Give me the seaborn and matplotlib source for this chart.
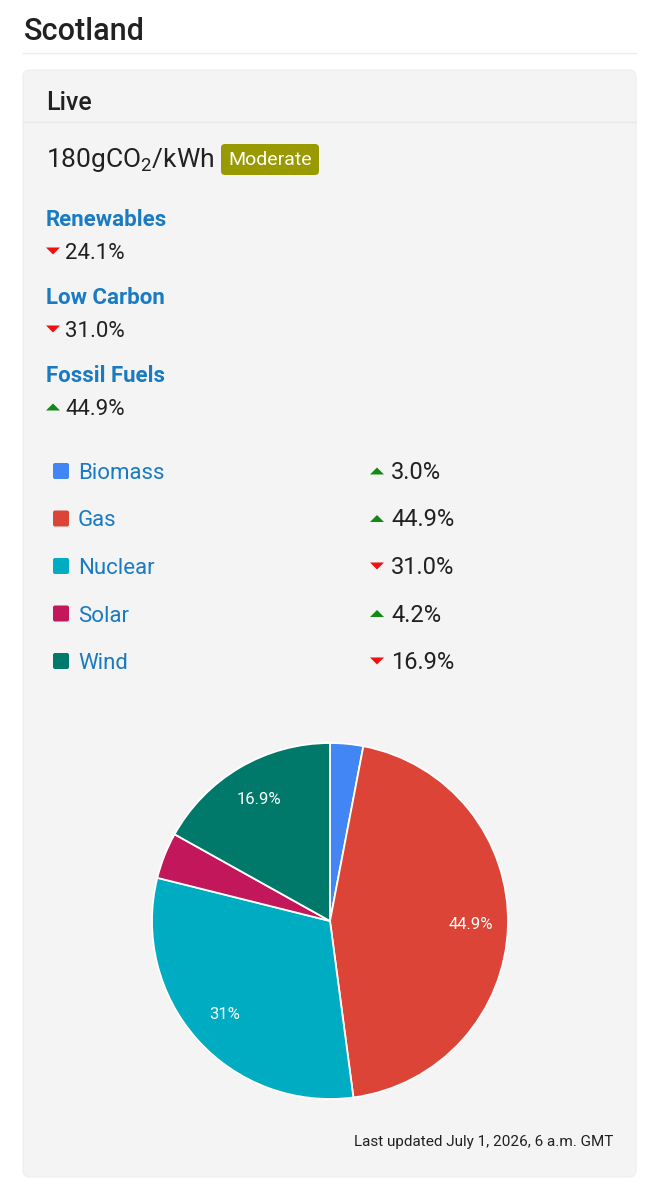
import matplotlib
matplotlib.use("Agg")
import matplotlib.pyplot as plt
from matplotlib.patches import FancyBboxPatch, Polygon
import seaborn as sns

sns.set_theme(style="white")
plt.rcParams['font.family'] = ['Roboto', 'DejaVu Sans']
plt.rcParams['mathtext.default'] = 'regular'

# DATA HERE
region = "Scotland"
intensity = 180
intensity_label = "Moderate"
groups = ["Renewables", "Low Carbon", "Fossil Fuels"]
group_values = [24.1, 31.0, 44.9]
group_trend = ["down", "down", "up"]
sources = ["Biomass", "Gas", "Nuclear", "Solar", "Wind"]
source_values = [3.0, 44.9, 31.0, 4.2, 16.9]
source_trend = ["up", "up", "down", "up", "down"]
source_colors = ["#4285f4", "#db4437", "#00acc1", "#c2185b", "#00796b"]
updated = "Last updated July 1, 2026, 6 a.m. GMT"

link_blue = "#1a7bc2"
text_dark = "#212121"
up_green = "#138a13"
down_red = "#f01010"

fig = plt.figure(figsize=(6.59, 12), dpi=100)
fig.patch.set_facecolor("white")

# full-figure overlay in pixel coordinates (y grows downwards)
ax = fig.add_axes([0, 0, 1, 1])
ax.set_xlim(0, 659)
ax.set_ylim(1200, 0)
ax.axis("off")


def trend_marker(x, y, trend):
    # small flat triangle, y is the vertical centre
    w, h = 14, 7
    if trend == "up":
        pts = [(x, y + h / 2), (x + w, y + h / 2), (x + w / 2, y - h / 2)]
        col = up_green
    else:
        pts = [(x, y - h / 2), (x + w, y - h / 2), (x + w / 2, y + h / 2)]
        col = down_red
    ax.add_patch(Polygon(pts, closed=True, fc=col, ec="none"))


# title + separator
ax.text(24, 40, region, fontsize=22, fontweight="medium", color=text_dark, va="baseline")
ax.plot([23, 636], [53, 53], color="#ebebeb", lw=1)

# card
ax.add_patch(FancyBboxPatch((23, 70), 613, 1107, boxstyle="round,pad=0,rounding_size=7",
                            fc="#f4f4f4", ec="#eeeeee", lw=0.8))
ax.text(46, 110, "Live", fontsize=18, fontweight="medium", color=text_dark, va="baseline")
ax.plot([23, 636], [122, 122], color="#e8e8e8", lw=1)

# intensity + badge
ax.text(46, 167, f"{intensity}gCO$_2$/kWh", fontsize=19, color=text_dark, va="baseline")
ax.add_patch(FancyBboxPatch((221, 144), 98, 31, boxstyle="round,pad=0,rounding_size=4",
                            fc="#999900", ec="none"))
ax.text(270, 160, intensity_label, fontsize=14, color="white", ha="center", va="center")

# group shares
for i, (g, v, t) in enumerate(zip(groups, group_values, group_trend)):
    y0 = 226 + i * 78
    ax.text(46, y0, g, fontsize=16, fontweight="bold", color=link_blue, va="baseline")
    trend_marker(46, y0 + 25, t)
    ax.text(65, y0 + 33, f"{v:.1f}%", fontsize=16, color=text_dark, va="baseline")

# source list
for i, (s, v, t, c) in enumerate(zip(sources, source_values, source_trend, source_colors)):
    yb = 479 + i * 47.5
    ax.add_patch(FancyBboxPatch((53, yb - 16), 16, 16, boxstyle="round,pad=0,rounding_size=2",
                                fc=c, ec="none"))
    ax.text(78, yb, s, fontsize=16, color=link_blue, va="baseline")
    trend_marker(370, yb - 8, t)
    ax.text(391, yb, f"{v:.1f}%", fontsize=17, color=text_dark, va="baseline")

# footer
ax.text(613, 1146, updated, fontsize=11, color=text_dark, ha="right", va="baseline")

# pie chart
cx, cy, r = 330, 921, 178
lim = 1.05
half = r * lim
pax = fig.add_axes([(cx - half) / 659, 1 - (cy + half) / 1200, 2 * half / 659, 2 * half / 1200])


def pct_label(p):
    return f"{round(p, 1):g}%" if p >= 10 else ""


pax.pie(source_values, colors=source_colors, startangle=90, counterclock=False,
        wedgeprops=dict(edgecolor="white", linewidth=1.3),
        autopct=pct_label, pctdistance=0.79,
        textprops=dict(color="white", fontsize=12))
pax.set_xlim(-lim, lim)
pax.set_ylim(-lim, lim)
pax.set_aspect("equal")
pax.axis("off")

fig.savefig("out.png", dpi=100, facecolor="white")
